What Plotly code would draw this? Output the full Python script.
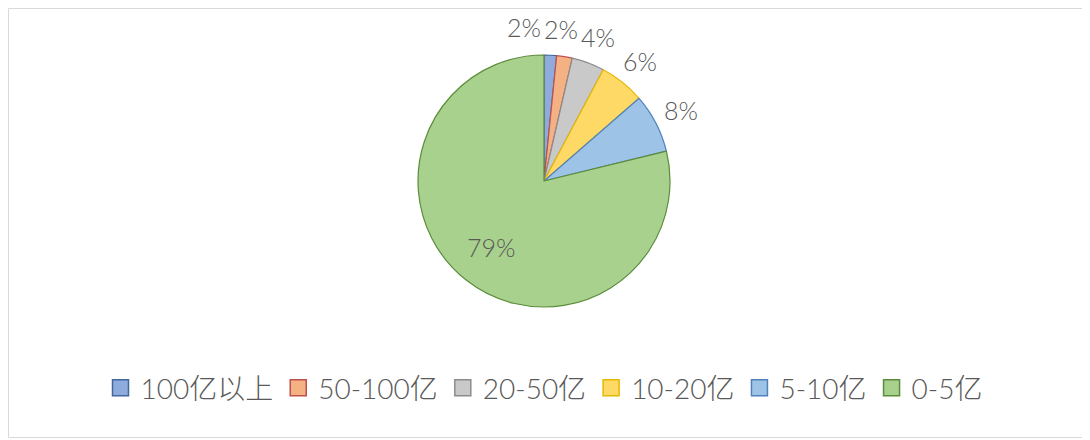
import numpy as np
import plotly.graph_objects as go

categories = ["100亿以上", "50-100亿", "20-50亿", "10-20亿", "5-10亿", "0-5亿"]
shares = [1.6, 2.0, 4.2, 5.8, 7.6, 78.8]

fill_colors = ["#8FAADC", "#F4B183", "#C9C9C9", "#FFD966", "#9DC3E6", "#A9D18E"]
line_colors = ["#41679F", "#C0504D", "#8C8C8C", "#E6B800", "#4F81BD", "#5B8C3A"]

# The page body carries an 8px margin, so the figure is sized to the visible area.
W, H = 1082, 432
cx, cy, r = 536, 173, 126          # pie centre / radius in figure pixels
label_font = "Lato, Noto Sans CJK SC, DejaVu Sans"
label_size = 25
text_color = "#595959"

vals = np.array(shares, dtype=float)
frac = vals / vals.sum()
cum = np.cumsum(frac)
mid_deg = (cum - frac / 2) * 360.0
is_big = frac >= 0.5

fig = go.Figure(go.Pie(
    labels=categories,
    values=shares,
    sort=False,
    direction="clockwise",
    rotation=0,
    marker=dict(colors=fill_colors, line=dict(color=line_colors, width=1.2)),
    textinfo="none",
    showlegend=False,
    domain=dict(x=[(cx - r) / W, (cx + r) / W], y=[1 - (cy + r) / H, 1 - (cy - r) / H]),
    hoverinfo="label+percent",
))

# legend entries with larger square swatches
for cat, fc, lc in zip(categories, fill_colors, line_colors):
    fig.add_trace(go.Scatter(
        x=[None], y=[None], mode="markers", name=cat, hoverinfo="skip",
        marker=dict(symbol="square", size=16, color=fc, line=dict(color=lc, width=1.5)),
    ))

# data labels placed along each slice's mid-angle (outside for small slices)
idx = list(range(len(vals)))
texts = {i: f"{round(frac[i] * 100):.0f}%" for i in idx}
dist = {i: (0.67 if is_big[i] else 1.22) * r for i in idx}
xs = {i: cx + dist[i] * np.sin(np.radians(mid_deg[i])) for i in idx}
ys = {i: cy - dist[i] * np.cos(np.radians(mid_deg[i])) for i in idx}
widths = {i: 0.66 * label_size * len(texts[i]) for i in idx}
gap = 4
out_idx = [i for i in idx if not is_big[i]]
for k in range(len(out_idx) - 2, -1, -1):
    a, b = out_idx[k], out_idx[k + 1]
    if abs(ys[a] - ys[b]) < label_size and xs[a] + widths[a] / 2 + gap > xs[b] - widths[b] / 2:
        xs[a] = xs[b] - widths[b] / 2 - gap - widths[a] / 2
        ys[a] = min(ys[a], ys[b])

annotations = [
    dict(x=xs[i] / W, y=1 - ys[i] / H, xref="paper", yref="paper", text=texts[i],
         showarrow=False, xanchor="center", yanchor="middle",
         font=dict(family=label_font, size=label_size, color=text_color, weight=300))
    for i in idx
]

fig.update_layout(
    width=W, height=H,
    margin=dict(l=0, r=0, t=0, b=0, autoexpand=False),
    paper_bgcolor="white",
    plot_bgcolor="white",
    font=dict(family=label_font, color=text_color, size=20),
    xaxis=dict(visible=False),
    yaxis=dict(visible=False),
    showlegend=True,
    legend=dict(
        orientation="h", x=536 / W, xanchor="center", y=1 - 380 / H, yanchor="middle",
        font=dict(family=label_font, size=28, color=text_color, weight=300),
        traceorder="normal", itemwidth=30,
    ),
    annotations=annotations,
    shapes=[dict(type="rect", xref="paper", yref="paper", x0=0.5 / W, x1=1080.5 / W,
                 y0=1 - 429.5 / H, y1=1 - 0.5 / H,
                 line=dict(color="#D9D9D9", width=1), fillcolor="rgba(0,0,0,0)", layer="below")],
)

fig.write_html("out.html")
